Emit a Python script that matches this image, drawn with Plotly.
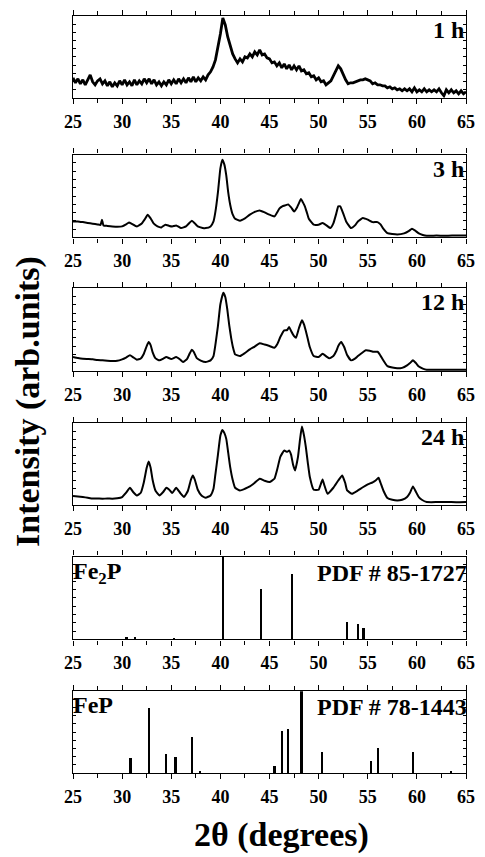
import plotly.graph_objects as go

# ---------------------------------------------------------------------------
# XRD scans of the milled powder (2-theta in degrees, intensity in arb. units)
# ---------------------------------------------------------------------------
SCAN_1H = [
    (25.0, 20), (25.25, 15), (25.5, 19), (25.75, 14), (26.0, 18), (26.25, 13), (26.5, 18), (26.75, 23),
    (27.0, 16), (27.25, 13), (27.5, 17), (27.75, 19), (28.0, 14), (28.25, 17), (28.5, 12), (28.75, 16),
    (29.0, 11), (29.25, 15), (29.5, 12), (29.75, 17), (30.0, 13), (30.25, 18), (30.5, 13), (30.75, 16),
    (31.0, 12), (31.25, 18), (31.5, 13), (31.75, 17), (32.0, 14), (32.25, 19), (32.5, 15), (32.75, 19),
    (33.0, 14), (33.25, 18), (33.5, 13), (33.75, 16), (34.0, 12), (34.25, 16), (34.5, 13), (34.75, 18),
    (35.0, 14), (35.25, 18), (35.5, 14), (35.75, 19), (36.0, 15), (36.25, 19), (36.5, 15), (36.75, 20),
    (37.0, 16), (37.25, 21), (37.5, 16), (37.75, 20), (38.0, 17), (38.25, 21), (38.5, 18), (38.75, 23),
    (39.0, 26), (39.25, 31), (39.5, 38), (39.75, 50), (40.0, 64), (40.25, 80), (40.5, 73), (40.75, 61),
    (41.0, 51), (41.25, 44), (41.5, 39), (41.75, 35), (42.0, 39), (42.25, 36), (42.5, 41), (42.75, 40),
    (43.0, 44), (43.25, 41), (43.5, 46), (43.75, 43), (44.0, 48), (44.25, 43), (44.5, 44), (44.75, 40),
    (45.0, 39), (45.25, 35), (45.5, 36), (45.75, 32), (46.0, 35), (46.25, 30), (46.5, 34), (46.75, 29),
    (47.0, 33), (47.25, 28), (47.5, 32), (47.75, 28), (48.0, 32), (48.25, 27), (48.5, 28), (48.75, 24),
    (49.0, 25), (49.25, 21), (49.5, 22), (49.75, 18), (50.0, 20), (50.25, 16), (50.5, 17), (50.75, 13),
    (51.0, 15), (51.25, 17), (51.5, 22), (51.75, 28), (52.0, 32), (52.25, 29), (52.5, 23), (52.75, 18),
    (53.0, 14), (53.25, 15), (53.5, 15), (53.75, 16), (54.0, 17), (54.25, 18), (54.5, 18), (54.75, 19),
    (55.0, 18), (55.25, 17), (55.5, 14), (55.75, 15), (56.0, 13), (56.25, 13), (56.5, 12), (56.75, 12),
    (57.0, 10), (57.25, 11), (57.5, 9), (57.75, 10), (58.0, 8), (58.25, 9), (58.5, 7), (58.75, 9),
    (59.0, 7), (59.25, 9), (59.5, 6), (59.75, 10), (60.0, 6), (60.25, 8), (60.5, 6), (60.75, 9),
    (61.0, 6), (61.25, 8), (61.5, 6), (61.75, 8), (62.0, 6), (62.25, 9), (62.5, 5), (62.75, 2),
    (63.0, 8), (63.25, 5), (63.5, 8), (63.75, 5), (64.0, 7), (64.25, 4), (64.5, 7), (64.75, 4),
    (65.0, 6),
]

SCAN_3H = [
    (25.0, 16), (25.5, 16), (26.0, 15.3), (26.5, 14.5), (27.0, 13.7), (27.5, 13), (27.8, 12.5),
    (27.95, 17.7), (28.1, 12), (28.5, 11.5), (29.0, 11), (29.5, 10.7), (30.0, 11), (30.4, 13),
    (30.7, 15), (31.0, 13.5), (31.5, 11), (32.0, 14), (32.3, 18), (32.6, 22.7), (32.9, 19),
    (33.2, 14), (33.6, 11), (34.0, 10), (34.4, 12.7), (34.8, 11.5), (35.1, 11), (35.5, 12),
    (36.0, 9.3), (36.5, 11), (36.8, 14), (37.1, 16.7), (37.4, 14), (37.7, 11), (38.2, 9.5),
    (38.5, 9.3), (39.0, 11), (39.3, 16), (39.5, 26), (39.75, 45), (40.0, 69), (40.2, 77.7),
    (40.4, 73), (40.6, 62), (40.8, 45), (41.0, 32.7), (41.25, 23), (41.5, 18.7), (42.0, 16.7),
    (42.5, 19), (43.0, 22.7), (43.5, 25.5), (44.0, 27), (44.5, 25), (45.0, 22.7), (45.5, 21),
    (46.0, 28.7), (46.3, 31), (46.6, 32), (46.9, 33), (47.2, 30), (47.5, 26), (47.8, 30),
    (48.0, 34.3), (48.2, 38.3), (48.4, 35), (48.6, 31), (48.8, 25), (49.0, 18.7), (49.5, 12.7),
    (50.0, 12.7), (50.4, 14.3), (50.8, 12), (51.2, 9.3), (51.5, 14), (51.8, 24), (52.0, 31),
    (52.2, 31), (52.5, 24), (52.8, 16), (53.3, 9.3), (53.7, 12), (54.0, 16), (54.5, 19.3),
    (55.0, 17.7), (55.5, 15.3), (56.0, 15.3), (56.3, 13), (56.6, 8.5), (57.0, 4.3), (58.0, 3),
    (58.7, 4), (59.2, 6.5), (59.5, 8.7), (59.8, 7), (60.2, 4), (60.6, 2.5), (61.0, 1.7),
    (62.0, 1.8), (63.0, 1.6), (64.0, 2), (65.0, 2),
]

SCAN_12H = [
    (25.0, 14), (25.5, 13), (26.0, 12.3), (26.5, 12), (27.0, 11.7), (27.5, 11), (28.0, 10.7),
    (28.5, 10.3), (29.0, 10), (29.5, 10.2), (30.0, 11.7), (30.4, 13.5), (30.8, 15.7), (31.1, 14),
    (31.5, 11.3), (31.9, 12.5), (32.2, 17), (32.5, 25), (32.7, 29), (32.9, 26), (33.1, 19),
    (33.4, 12.7), (33.8, 10.7), (34.2, 12.5), (34.5, 14), (35.0, 12), (35.5, 14), (35.9, 11.5),
    (36.2, 9), (36.6, 12), (36.9, 18), (37.1, 21.3), (37.3, 19), (37.6, 13), (38.0, 10.5),
    (38.5, 9), (39.0, 10.7), (39.3, 15), (39.5, 26.7), (39.75, 45), (40.0, 66.7), (40.3, 78.3),
    (40.5, 74), (40.7, 62), (40.9, 46), (41.1, 33), (41.3, 23), (41.5, 16.7), (42.0, 15),
    (42.5, 18), (43.0, 21.7), (43.5, 24.5), (44.0, 27.7), (44.5, 26.5), (45.0, 25), (45.5, 23.3),
    (45.8, 27), (46.1, 34), (46.5, 40.7), (46.8, 41), (47.0, 44), (47.2, 40), (47.5, 35),
    (47.7, 33.3), (48.0, 43), (48.3, 50.7), (48.5, 47), (48.7, 40), (48.9, 32), (49.1, 24),
    (49.5, 15), (50.0, 14), (50.4, 17.3), (50.8, 14.5), (51.1, 12.7), (51.5, 15), (51.8, 20),
    (52.0, 25), (52.3, 29), (52.6, 24), (52.9, 16), (53.3, 10.7), (53.7, 12.5), (54.0, 15),
    (54.4, 18), (54.8, 20.7), (55.2, 20.3), (55.6, 19.3), (56.0, 19.3), (56.2, 17), (56.6, 10.5),
    (57.0, 5), (57.5, 3.5), (58.0, 2.7), (58.5, 3.2), (59.0, 5.7), (59.3, 8), (59.6, 10.7),
    (59.9, 8), (60.2, 4.5), (60.6, 2.5), (61.0, 1.3), (62.0, 1.3), (63.0, 1.4), (64.0, 1.2),
    (65.0, 1.3),
]

SCAN_24H = [
    (25.0, 8.7), (25.5, 8.2), (26.0, 7.7), (26.5, 7), (27.0, 6.3), (27.5, 6.2), (28.0, 6),
    (28.5, 6.2), (29.0, 6), (29.5, 6.5), (30.0, 7.7), (30.4, 12), (30.8, 17), (31.1, 13),
    (31.5, 9.3), (31.9, 12), (32.2, 22), (32.5, 37), (32.7, 43.3), (32.9, 37), (33.1, 25),
    (33.4, 14), (33.8, 9.3), (34.2, 13), (34.5, 17), (34.8, 15), (35.1, 11.7), (35.5, 17),
    (35.9, 12), (36.3, 7.7), (36.7, 14), (37.0, 25), (37.2, 29.3), (37.4, 25), (37.7, 15),
    (38.1, 9), (38.5, 7), (39.0, 9.3), (39.3, 16), (39.5, 31), (39.75, 50), (40.0, 69.3),
    (40.2, 75), (40.4, 72), (40.6, 66), (40.8, 52), (41.0, 37.7), (41.25, 25), (41.5, 17),
    (42.0, 14.3), (42.5, 16), (43.0, 18.3), (43.5, 22), (44.0, 26), (44.5, 24), (45.0, 22.7),
    (45.5, 26), (45.8, 36), (46.1, 48), (46.5, 54.3), (46.8, 53), (47.0, 54.3), (47.2, 50),
    (47.4, 40), (47.6, 34.3), (47.9, 48), (48.1, 65), (48.3, 78.3), (48.5, 70), (48.7, 57.7),
    (48.9, 42), (49.1, 28), (49.5, 15), (50.0, 15), (50.2, 20), (50.4, 25.3), (50.6, 19),
    (50.9, 11), (51.5, 17), (52.0, 24.3), (52.4, 29.3), (52.7, 22), (52.9, 14.3), (53.4, 11),
    (54.0, 14.3), (54.5, 17.5), (55.0, 20.3), (55.5, 22.5), (55.8, 24.3), (56.1, 27), (56.3, 22),
    (56.6, 14), (57.0, 6.7), (57.5, 5), (58.0, 4.3), (58.5, 5), (59.0, 7.7), (59.3, 12),
    (59.6, 18.3), (59.9, 13), (60.2, 7.5), (60.5, 5), (61.0, 2.7), (62.0, 2.6), (63.0, 2.8),
    (64.0, 2.5), (65.0, 2.7),
]

SCAN_LABELS = ["1 h", "3 h", "12 h", "24 h"]

# Reference patterns (stick positions and relative intensities, %)
FE2P_THETA = [30.47, 31.30, 35.28, 40.28, 44.20, 47.29, 52.89, 54.05, 54.59]
FE2P_INTENSITY = [3.6, 3.2, 2.4, 100, 61, 79, 21, 19, 14]
FE2P_LABEL = "Fe<sub>2</sub>P"
FE2P_CARD = "PDF # 85-1727"

FEP_THETA = [30.87, 32.73, 34.52, 35.45, 37.14, 37.94, 45.53, 46.33, 46.92, 48.28,
             50.37, 55.35, 56.08, 59.59, 63.54]
FEP_INTENSITY = [18, 79, 23, 19.5, 44, 1.6, 8, 51, 53, 100, 26, 14, 30, 25, 1.2]
FEP_LABEL = "FeP"
FEP_CARD = "PDF # 78-1443"

X_TICKS = [25, 30, 35, 40, 45, 50, 55, 60, 65]

# ---------------------------------------------------------------------------
# Layout geometry (pixel boxes of the six stacked panels)
# ---------------------------------------------------------------------------
W, H = 485, 857
M_L, M_R, M_T, M_B = 73, 10, 14, 84
PLOT_H = H - M_T - M_B
PANEL_BOXES = [(14, 96), (153, 236), (287, 370), (422, 504), (556, 639), (691, 773)]
Y_TOPS = [82, 82.7, 82.7, 82, 100, 100]

FONT = "'Liberation Serif', 'DejaVu Serif', 'Times New Roman', serif"
INK = "black"


def domain(box):
    top, bottom = box
    return [(H - M_B - bottom) / PLOT_H, (H - M_B - top) / PLOT_H]


def ax(letter, n):
    """Axis id as used by traces/annotations: 'x', 'x2', ..."""
    return letter if n == 1 else f"{letter}{n}"


def bold(s):
    return f"<b>{s}</b>"


fig = go.Figure()

scans = [SCAN_1H, SCAN_3H, SCAN_12H, SCAN_24H]
for i, scan in enumerate(scans):
    n = i + 1
    xs = [p[0] for p in scan]
    ys = [p[1] for p in scan]
    line = dict(color=INK, width=2.8) if i == 0 else dict(color=INK, width=2.0,
                                                          shape="spline", smoothing=0.4)
    fig.add_trace(go.Scatter(
        x=xs, y=ys, mode="lines", line=line,
        xaxis=ax("x", n), yaxis=ax("y", n), showlegend=False,
    ))

for j, (theta, inten) in enumerate([(FE2P_THETA, FE2P_INTENSITY), (FEP_THETA, FEP_INTENSITY)]):
    n = 5 + j
    fig.add_trace(go.Bar(
        x=theta, y=inten, width=0.17,
        marker=dict(color=INK, line=dict(width=0)),
        xaxis=ax("x", n), yaxis=ax("y", n), showlegend=False,
    ))

axis_font = dict(family=FONT, size=18, color=INK)
label_font = dict(family=FONT, size=24, color=INK)
title_font = dict(family=FONT, size=34, color=INK)

layout = dict(
    width=W, height=H,
    margin=dict(l=M_L, r=M_R, t=M_T, b=M_B),
    paper_bgcolor="white", plot_bgcolor="white",
    showlegend=False, bargap=0,
    font=dict(family=FONT, color=INK),
)

for n in range(1, 7):
    suffix = "" if n == 1 else str(n)
    layout[f"xaxis{suffix}"] = dict(
        domain=[0, 1], anchor=ax("y", n), range=[25, 65],
        tickmode="array", tickvals=X_TICKS, ticktext=[bold(t) for t in X_TICKS],
        ticks="outside", ticklen=5, tickwidth=1.2, tickcolor=INK,
        minor=dict(dtick=2.5, ticks="outside", ticklen=4, tickwidth=1.2, tickcolor=INK),
        showline=True, linecolor=INK, linewidth=1.4, mirror="allticks",
        showgrid=False, zeroline=False, tickfont=axis_font, ticklabelstandoff=2,
    )
    layout[f"yaxis{suffix}"] = dict(
        domain=domain(PANEL_BOXES[n - 1]), anchor=ax("x", n),
        range=[0, Y_TOPS[n - 1]],
        ticks="inside", ticklen=3, tickwidth=1, tickcolor=INK,
        dtick=Y_TOPS[n - 1] / 10,
        showticklabels=False,
        showline=True, linecolor=INK, linewidth=1.4, mirror="allticks",
        showgrid=False, zeroline=False,
    )

fig.update_layout(**layout)

annotations = []
for i, lab in enumerate(SCAN_LABELS):
    n = i + 1
    annotations.append(dict(
        text=bold(lab), xref=f"{ax('x', n)} domain", yref=f"{ax('y', n)} domain",
        x=1.0, y=1.0, xanchor="right", yanchor="top", xshift=0, yshift=1,
        showarrow=False, font=label_font,
    ))

for j, (lab, card) in enumerate([(FE2P_LABEL, FE2P_CARD), (FEP_LABEL, FEP_CARD)]):
    n = 5 + j
    annotations.append(dict(
        text=bold(lab), xref=f"{ax('x', n)} domain", yref=f"{ax('y', n)} domain",
        x=0.0, y=1.0, xanchor="left", yanchor="top", xshift=-2, yshift=1,
        showarrow=False, font=label_font,
    ))
    annotations.append(dict(
        text=bold(card), xref=f"{ax('x', n)} domain", yref=f"{ax('y', n)} domain",
        x=1.0, y=1.0, xanchor="right", yanchor="top", xshift=3, yshift=-1,
        showarrow=False, font=label_font,
    ))

annotations.append(dict(
    text=bold("Intensity (arb.units)"), xref="paper", yref="paper",
    x=(27 - M_L) / (W - M_L - M_R), y=(H - M_B - 401) / PLOT_H,
    xanchor="center", yanchor="middle", textangle=-90,
    showarrow=False, font=title_font,
))
annotations.append(dict(
    text=bold("2θ (degrees)"), xref="paper", yref="paper",
    x=(286 - M_L) / (W - M_L - M_R), y=-(835 - (H - M_B)) / PLOT_H,
    xanchor="center", yanchor="middle",
    showarrow=False, font=title_font,
))

fig.update_layout(annotations=annotations)

fig.write_html("out.html")
